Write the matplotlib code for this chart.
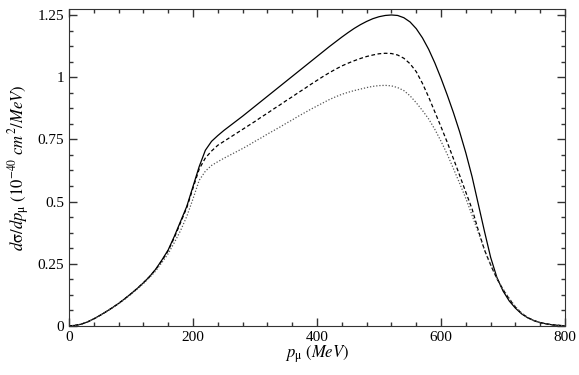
import matplotlib
matplotlib.use('Agg')
import matplotlib.pyplot as plt
from matplotlib.ticker import MultipleLocator, FuncFormatter

plt.rcParams['font.family'] = ['Liberation Serif', 'DejaVu Serif']
plt.rcParams['mathtext.fontset'] = 'stix'
plt.rcParams['font.size'] = 11

# muon momentum (MeV), 10 MeV steps
p_mu = list(range(0, 801, 10))

solid = [0, 0.002, 0.007, 0.016, 0.028, 0.042, 0.057, 0.073, 0.09, 0.109,
         0.129, 0.15, 0.173, 0.198, 0.228, 0.265, 0.305, 0.36, 0.42, 0.48,
         0.56, 0.64, 0.706, 0.742, 0.765, 0.786, 0.805, 0.824, 0.843, 0.863,
         0.883, 0.903, 0.923, 0.943, 0.963, 0.983, 1.003, 1.023, 1.043, 1.063,
         1.083, 1.103, 1.123, 1.142, 1.161, 1.179, 1.196, 1.211, 1.224, 1.235,
         1.243, 1.248, 1.25, 1.248, 1.239, 1.222, 1.195, 1.158, 1.112, 1.057,
         0.995, 0.928, 0.857, 0.78, 0.695, 0.6, 0.49, 0.38, 0.275, 0.195,
         0.14, 0.1, 0.071, 0.048, 0.032, 0.021, 0.013, 0.008, 0.004, 0.002, 0]

dashed = [0, 0.002, 0.007, 0.016, 0.028, 0.042, 0.057, 0.073, 0.09, 0.109,
          0.129, 0.15, 0.173, 0.198, 0.227, 0.262, 0.302, 0.355, 0.415, 0.475,
          0.553, 0.63, 0.675, 0.703, 0.726, 0.742, 0.758, 0.774, 0.79, 0.806,
          0.822, 0.839, 0.855, 0.872, 0.888, 0.905, 0.921, 0.938, 0.954, 0.971,
          0.987, 1.003, 1.018, 1.032, 1.045, 1.056, 1.066, 1.075, 1.083, 1.089,
          1.094, 1.096, 1.095, 1.089, 1.076, 1.054, 1.022, 0.975, 0.92, 0.86,
          0.8, 0.738, 0.672, 0.605, 0.537, 0.47, 0.385, 0.305, 0.245, 0.19,
          0.145, 0.108, 0.075, 0.05, 0.033, 0.021, 0.013, 0.008, 0.004, 0.002, 0]

dotted = [0, 0.002, 0.007, 0.016, 0.028, 0.042, 0.057, 0.072, 0.089, 0.107,
          0.127, 0.148, 0.17, 0.194, 0.221, 0.255, 0.29, 0.335, 0.383, 0.44,
          0.51, 0.585, 0.622, 0.645, 0.66, 0.674, 0.687, 0.70, 0.713, 0.727,
          0.742, 0.756, 0.771, 0.785, 0.799, 0.814, 0.828, 0.843, 0.857, 0.871,
          0.884, 0.897, 0.91, 0.921, 0.931, 0.939, 0.946, 0.952, 0.958, 0.963,
          0.966, 0.967, 0.965, 0.958, 0.946, 0.925, 0.897, 0.866, 0.832, 0.79,
          0.742, 0.69, 0.632, 0.573, 0.512, 0.445, 0.375, 0.305, 0.245, 0.19,
          0.148, 0.11, 0.077, 0.051, 0.033, 0.021, 0.013, 0.008, 0.004, 0.002, 0]

fig = plt.figure(figsize=(5.79, 3.75), dpi=100)
ax = fig.add_axes([0.119, 0.131, 0.857, 0.845])

ax.plot(p_mu, solid, color='black', lw=0.9)
ax.plot(p_mu, dashed, color='black', lw=0.9, dashes=(3, 2))
ax.plot(p_mu, dotted, color='#555555', lw=0.9, dashes=(1, 1.5))

ax.set_xlim(0, 800)
ax.set_ylim(0, 1.274)
ax.xaxis.set_major_locator(MultipleLocator(200))
ax.xaxis.set_minor_locator(MultipleLocator(40))
ax.yaxis.set_major_locator(MultipleLocator(0.25))
ax.yaxis.set_minor_locator(MultipleLocator(0.0625))
ax.yaxis.set_major_formatter(FuncFormatter(lambda v, pos: '%g' % v))

ax.tick_params(which='both', direction='in', top=True, right=True, color='#333333')
ax.tick_params(which='major', length=6, width=1)
ax.tick_params(which='minor', length=3, width=1)
for s in ax.spines.values():
    s.set_color('#333333')

ax.set_xlabel(r'$p_{\mathrm{\mu}}\ (MeV)$', fontsize=12, labelpad=0)
ax.set_ylabel(r'$d\mathrm{\sigma}/dp_{\mathrm{\mu}}\ (10^{-40}\ cm^{2}/MeV)$',
              fontsize=12, labelpad=4)

fig.savefig('out.png', dpi=100)
